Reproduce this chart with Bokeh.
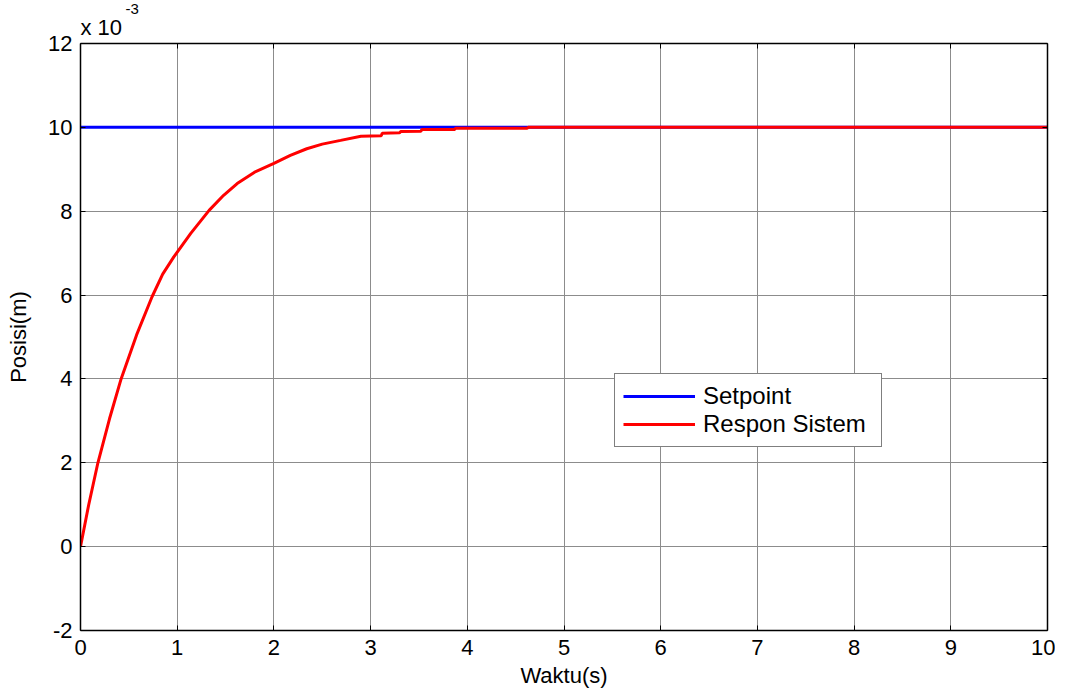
from bokeh.plotting import figure
from bokeh.models import LinearAxis, Range1d, FixedTicker, Title, Legend, LegendItem
from bokeh.embed import file_html
from bokeh.resources import INLINE

# Data (Posisi in units of 10^-3 m)
setpoint_t = [0, 10]
setpoint_v = [10, 10]

respon_t = [0, 0.085, 0.18, 0.3, 0.42, 0.58, 0.74, 0.85, 0.965, 1.14, 1.33, 1.48,
            1.62, 1.8, 2.0, 2.17, 2.34, 2.5, 2.69, 2.9, 3.11, 3.12, 3.30, 3.31,
            3.52, 3.53, 3.87, 3.88, 4.62, 4.63, 10]
respon_v = [0, 1.0, 2.0, 3.05, 4.0, 5.05, 5.96, 6.5, 6.91, 7.47, 8.02, 8.38,
            8.66, 8.93, 9.14, 9.33, 9.49, 9.6, 9.69, 9.79, 9.80, 9.86, 9.87, 9.90,
            9.91, 9.95, 9.95, 9.98, 9.98, 10.0, 10.0]

x_ticks = [0, 1, 2, 3, 4, 5, 6, 7, 8, 9, 10]
y_ticks = [-2, 0, 2, 4, 6, 8, 10, 12]
y_tick_labels = {-2: "-2", 0: "0", 2: "2", 4: "4", 6: "6", 8: "8", 10: "10", 12: "12"}

FONT = "Liberation Sans"

p = figure(width=1055, height=690, output_backend="svg", toolbar_location=None,
           x_range=Range1d(0, 10), y_range=Range1d(-2, 12),
           min_border_left=80, min_border_right=8, min_border_top=43, min_border_bottom=59)
p.outline_line_color = None
p.background_fill_color = "white"

for g in (p.xgrid, p.ygrid):
    g.grid_line_color = "#8c8c8c"
    g.grid_line_width = 1
p.xgrid.ticker = FixedTicker(ticks=x_ticks)
p.ygrid.ticker = FixedTicker(ticks=y_ticks)

def style_axis(ax, ticks, show_labels=True):
    ax.ticker = FixedTicker(ticks=ticks)
    ax.axis_line_color = "black"
    ax.axis_line_width = 1.5
    ax.major_tick_in = 5
    ax.major_tick_out = 0
    ax.major_tick_line_color = "black"
    ax.minor_tick_line_color = None
    ax.major_label_text_font = FONT
    ax.major_label_text_color = "black"
    if show_labels:
        ax.major_label_text_font_size = "22px"
    else:
        ax.major_label_text_font_size = "0px"
        ax.major_label_standoff = 0

style_axis(p.xaxis[0], x_ticks)
style_axis(p.yaxis[0], y_ticks)
p.yaxis[0].major_label_overrides = y_tick_labels
p.xaxis[0].major_label_standoff = 9
p.yaxis[0].major_label_standoff = 8

p.xaxis[0].axis_label = "Waktu(s)"
p.yaxis[0].axis_label = "Posisi(m)"
for ax in (p.xaxis[0], p.yaxis[0]):
    ax.axis_label_text_font = FONT
    ax.axis_label_text_font_size = "22px"
    ax.axis_label_text_font_style = "normal"
    ax.axis_label_text_color = "black"
p.xaxis[0].axis_label_standoff = 5
p.yaxis[0].axis_label_standoff = 14

top_ax = LinearAxis()
right_ax = LinearAxis()
style_axis(top_ax, x_ticks, show_labels=False)
style_axis(right_ax, y_ticks, show_labels=False)
p.add_layout(top_ax, "above")
p.add_layout(right_ax, "right")

# exponent of the y axis
t1 = Title(text="x 10", align="left", text_font=FONT, text_font_size="22px",
           text_font_style="normal", text_color="black", standoff=8, offset=0)
t2 = Title(text="-3", align="left", text_font=FONT, text_font_size="15px",
           text_font_style="normal", text_color="black", standoff=-10, offset=45)
p.add_layout(t1, "above")
p.add_layout(t2, "above")

r1 = p.line(setpoint_t, setpoint_v, line_color="#0000ff", line_width=3)
r2 = p.line(respon_t, respon_v, line_color="#ff0000", line_width=3)

legend = Legend(items=[LegendItem(label="Setpoint", renderers=[r1]),
                       LegendItem(label="Respon Sistem", renderers=[r2])],
                location=(534, 183))
legend.label_text_font = FONT
legend.label_text_font_size = "24px"
legend.label_text_color = "black"
legend.glyph_width = 72
legend.glyph_height = 24
legend.label_height = 24
legend.label_width = 170
legend.label_standoff = 8
legend.spacing = 0
legend.padding = 8
legend.margin = 0
legend.border_line_color = "black"
legend.border_line_width = 1.5
legend.background_fill_alpha = 1
p.add_layout(legend, "center")

open("out.html", "w").write(file_html(p, INLINE))
